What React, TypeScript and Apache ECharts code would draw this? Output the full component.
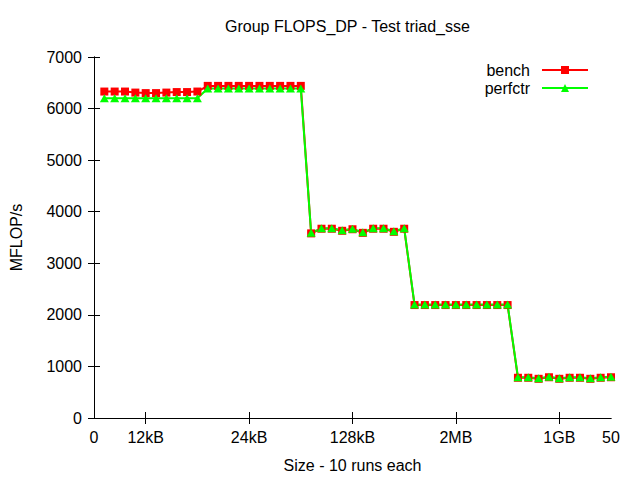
import React, { useEffect, useRef } from "react";
import * as echarts from "echarts";

const runIndex = [
  1, 2, 3, 4, 5, 6, 7, 8, 9, 10,
  11, 12, 13, 14, 15, 16, 17, 18, 19, 20,
  21, 22, 23, 24, 25, 26, 27, 28, 29, 30,
  31, 32, 33, 34, 35, 36, 37, 38, 39, 40,
  41, 42, 43, 44, 45, 46, 47, 48, 49, 50,
];

const benchValues = [
  6330, 6330, 6330, 6310, 6300, 6300, 6310, 6320, 6320, 6330,
  6440, 6440, 6440, 6440, 6440, 6440, 6440, 6440, 6440, 6440,
  3580, 3670, 3670, 3630, 3660, 3590, 3670, 3670, 3610, 3670,
  2190, 2190, 2190, 2190, 2190, 2190, 2190, 2190, 2190, 2190,
  780, 780, 760, 790, 760, 780, 780, 760, 780, 790,
];

const perfctrValues = [
  6200, 6200, 6200, 6200, 6200, 6200, 6200, 6200, 6200, 6200,
  6390, 6390, 6390, 6390, 6390, 6390, 6390, 6390, 6390, 6390,
  3590, 3680, 3680, 3640, 3670, 3600, 3680, 3680, 3620, 3680,
  2200, 2200, 2200, 2200, 2200, 2200, 2200, 2200, 2200, 2200,
  790, 790, 770, 800, 770, 790, 790, 770, 790, 800,
];

const xTickValues = [0, 5, 15, 25, 35, 45, 50];
const xTickLabels = ["0", "12kB", "24kB", "128kB", "2MB", "1GB", "50"];
const xMinorTicks = [5, 15, 25, 35, 45];

const FONT = "'Liberation Sans', Arial, sans-serif";
const FS = 16;

export default function App() {
  const ref = useRef<HTMLDivElement>(null);

  useEffect(() => {
    if (!ref.current) return;
    const chart = echarts.init(ref.current, undefined, { renderer: "svg" });
    const axisLine = { show: true, lineStyle: { color: "#000", width: 1 } };
    const xLabelFormatter = (v: number) => {
      const i = xTickValues.indexOf(v);
      return i >= 0 ? xTickLabels[i] : "";
    };
    chart.setOption({
      animation: false,
      backgroundColor: "#fff",
      textStyle: { fontFamily: FONT },
      title: {
        text: "Group FLOPS_DP - Test triad_sse",
        left: 225,
        top: 18,
        padding: 0,
        textStyle: { fontFamily: FONT, fontSize: FS, fontWeight: "normal", color: "#000" },
      },
      legend: {
        orient: "vertical",
        right: 51,
        top: 62,
        align: "right",
        itemWidth: 46,
        itemHeight: 10,
        itemGap: 2,
        padding: 0,
        textStyle: { fontFamily: FONT, fontSize: FS, color: "#000", padding: [0, 7, 0, 0] },
        data: ["bench", "perfctr"],
      },
      grid: { left: 93, right: 29, top: 57, bottom: 62, containLabel: false },
      xAxis: [
        {
          type: "value",
          min: 0,
          max: 50,
          position: "bottom",
          name: "Size - 10 runs each",
          nameLocation: "middle",
          nameGap: 39,
          nameTextStyle: { fontFamily: FONT, fontSize: FS, color: "#000" },
          axisLine,
          axisTick: { show: true, inside: true, length: 6, customValues: xMinorTicks, lineStyle: { color: "#000" } },
          axisLabel: {
            show: true,
            customValues: xTickValues,
            formatter: xLabelFormatter,
            margin: 11,
            fontFamily: FONT,
            fontSize: FS,
            color: "#000",
          },
          splitLine: { show: false },
        },
        {
          type: "value",
          min: 0,
          max: 50,
          position: "top",
          axisLine,
          axisTick: { show: true, inside: true, length: 6, customValues: xMinorTicks, lineStyle: { color: "#000" } },
          axisLabel: { show: false },
          splitLine: { show: false },
        },
      ],
      yAxis: [
        {
          type: "value",
          min: 0,
          max: 7000,
          interval: 1000,
          position: "left",
          name: "MFLOP/s",
          nameLocation: "middle",
          nameGap: 70,
          nameTextStyle: { fontFamily: FONT, fontSize: FS, color: "#000" },
          axisLine,
          axisTick: { show: true, inside: true, length: 6, lineStyle: { color: "#000" } },
          axisLabel: {
            margin: 12,
            fontFamily: FONT,
            fontSize: FS,
            color: "#000",
            formatter: (v: number) => String(v),
          },
          splitLine: { show: false },
        },
        {
          type: "value",
          min: 0,
          max: 7000,
          interval: 1000,
          position: "right",
          axisLine,
          axisTick: { show: true, inside: true, length: 6, lineStyle: { color: "#000" } },
          axisLabel: { show: false },
          splitLine: { show: false },
        },
      ],
      series: [
        {
          name: "bench",
          type: "line",
          xAxisIndex: 0,
          yAxisIndex: 0,
          data: runIndex.map((x, i) => [x, benchValues[i]]),
          symbol: "rect",
          symbolSize: 8,
          showAllSymbol: true,
          lineStyle: { color: "#ff0000", width: 2 },
          itemStyle: { color: "#ff0000" },
        },
        {
          name: "perfctr",
          type: "line",
          xAxisIndex: 0,
          yAxisIndex: 0,
          data: runIndex.map((x, i) => [x, perfctrValues[i]]),
          symbol: "triangle",
          symbolSize: [9, 8],
          showAllSymbol: true,
          lineStyle: { color: "#00ff00", width: 2 },
          itemStyle: { color: "#00ff00" },
        },
      ],
    });
    return () => chart.dispose();
  }, []);

  return <div ref={ref} style={{ width: 640, height: 480, position: "absolute", left: 0, top: 0 }} />;
}
